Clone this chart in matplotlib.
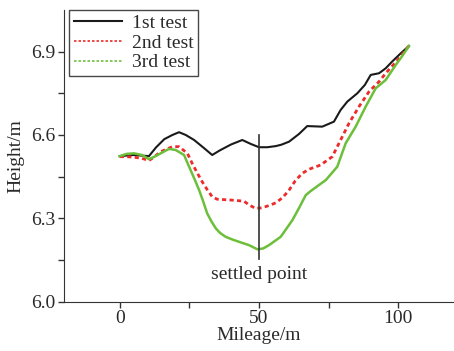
import matplotlib.pyplot as plt
from matplotlib.lines import Line2D

plt.rcParams['font.family'] = ['Liberation Serif', 'DejaVu Serif']
plt.rcParams['text.color'] = '#2a2a2a'
plt.rcParams['xtick.labelcolor'] = '#2a2a2a'
plt.rcParams['ytick.labelcolor'] = '#2a2a2a'
plt.rcParams['axes.labelcolor'] = '#2a2a2a'

# Values
x_1st = [0, 5, 10.5, 13, 16, 18.9, 21.3, 23.7, 26.7, 30, 33.2, 36, 40, 44, 47, 50, 53,
         56, 58, 60.8, 64.4, 67.3, 72.7, 76.9, 79.3, 81.7, 85.3, 88, 90.1, 93.1, 95.5,
         97.8, 100.5, 103.8]
y_1st = [6.524, 6.528, 6.524, 6.555, 6.585, 6.6, 6.61, 6.6, 6.582, 6.555, 6.528, 6.545,
         6.566, 6.582, 6.568, 6.556, 6.556, 6.56, 6.565, 6.576, 6.604, 6.632, 6.63, 6.648,
         6.69, 6.72, 6.75, 6.78, 6.816, 6.822, 6.84, 6.864, 6.89, 6.92]

x_2nd = [0, 2.5, 5.1, 8, 10.5, 12.5, 14.7, 18.9, 21.3, 24.3, 26, 27.8, 29.6, 31.5, 33.2,
         35, 40, 44.6, 46.5, 48.8, 51, 53.5, 56, 58.5, 60.8, 63, 65.5, 68, 72.1, 76.3,
         78.7, 82.3, 85.9, 89.5, 93.1, 95.5, 98, 100.3, 103.8]
y_2nd = [6.522, 6.522, 6.52, 6.516, 6.508, 6.522, 6.54, 6.558, 6.558, 6.534, 6.498, 6.464,
         6.432, 6.402, 6.378, 6.369, 6.366, 6.362, 6.348, 6.336, 6.338, 6.346, 6.356,
         6.375, 6.402, 6.435, 6.462, 6.477, 6.492, 6.522, 6.57, 6.642, 6.702, 6.756,
         6.792, 6.822, 6.85, 6.876, 6.92]

x_3rd = [0, 2.5, 5.1, 8, 10.5, 12.5, 14.7, 17.7, 20.1, 23.1, 24.9, 26.7, 28.5, 30, 31.4,
         33, 34.5, 36, 38, 40.5, 42.8, 46.4, 49.4, 51.5, 53.6, 57.8, 62, 64.5, 66.8, 68.5,
         71.5, 74, 78.1, 81.1, 84.7, 88.3, 91.9, 95.5, 99.1, 101.5, 103.8]
y_3rd = [6.524, 6.532, 6.534, 6.528, 6.513, 6.522, 6.534, 6.55, 6.546, 6.528, 6.486,
         6.445, 6.402, 6.36, 6.318, 6.288, 6.264, 6.248, 6.234, 6.224, 6.216, 6.204,
         6.189, 6.192, 6.204, 6.234, 6.294, 6.34, 6.384, 6.398, 6.42, 6.438, 6.486, 6.57,
         6.63, 6.702, 6.768, 6.798, 6.852, 6.885, 6.92]

settled_x = 50
settled_y = [6.155, 6.60]

fig = plt.figure(figsize=(4.54, 3.51), dpi=100)
ax = fig.add_axes([0.141, 0.14, 0.859, 0.832])

ax.plot(x_1st, y_1st, color='#1a1a1a', lw=1.5)
ax.plot(x_2nd, y_2nd, color='#ee2a2a', lw=2.0, linestyle=(0, (1.5, 1.2)))
ax.plot(x_3rd, y_3rd, color='#6cbf3a', lw=1.8)

ax.plot([settled_x, settled_x], settled_y, color='#333333', lw=1.2)
ax.text(settled_x, 6.097, 'settled point', ha='center', va='center', fontsize=14)

ax.set_xlim(-20, 120)
ax.set_ylim(6.0, 7.05)
ax.set_xticks([0, 50, 100])
ax.set_xticks([25, 75], minor=True)
ax.set_yticks([6.0, 6.3, 6.6, 6.9])
ax.set_yticks([6.15, 6.45, 6.75], minor=True)
ax.set_yticklabels(['6.0', '6.3', '6.6', '6.9'])
ax.tick_params(labelsize=14, width=1, length=4, color='#333333', pad=2)
ax.tick_params(which='minor', width=1, length=4, color='#333333')

ax.spines['top'].set_visible(False)
ax.spines['right'].set_visible(False)
ax.spines['left'].set_color('#333333')
ax.spines['bottom'].set_color('#333333')

ax.set_xlabel('Mileage/m', fontsize=14, labelpad=0)
ax.set_ylabel('Height/m', fontsize=14, labelpad=5)

handles = [Line2D([], [], color='#1a1a1a', lw=1.5),
           Line2D([], [], color='#ee2a2a', lw=1.2, linestyle=(0, (1.5, 1.2))),
           Line2D([], [], color='#6cbf3a', lw=1.2, linestyle=(0, (1.5, 1.2)))]
leg = ax.legend(handles, ['1st test', '2nd test', '3rd test'], loc='upper left',
                bbox_to_anchor=(0.012, 1.0), fontsize=14, frameon=True, fancybox=False,
                borderpad=0.25, labelspacing=0.1, handlelength=2.5, handletextpad=0.5,
                borderaxespad=0.0)
leg.get_frame().set_edgecolor('#1a1a1a')
leg.get_frame().set_linewidth(1.0)

fig.savefig('out.png', dpi=100)
